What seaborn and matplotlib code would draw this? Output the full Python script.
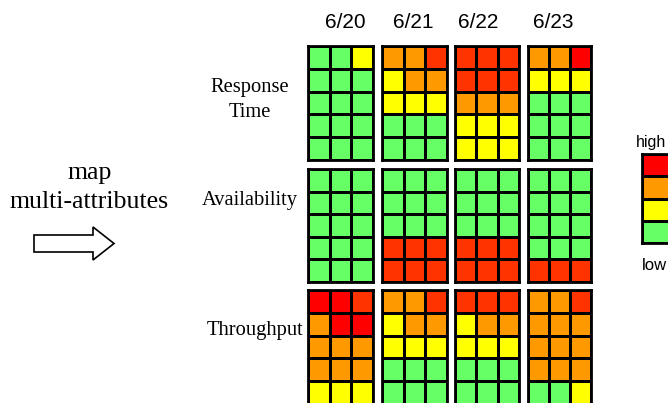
import numpy as np
import matplotlib.pyplot as plt
import seaborn as sns
from matplotlib.colors import ListedColormap
from matplotlib.patches import FancyArrow

# level colours: 0 green, 1 yellow, 2 orange, 3 red-orange, 4 red
level_colors = ["#66FF66", "#FFFF00", "#FF9900", "#FF3300", "#FF0000"]
dates = ["6/20", "6/21", "6/22", "6/23"]
attributes = ["Response\nTime", "Availability", "Throughput"]

response_time = [
    [[0, 0, 1], [0, 0, 0], [0, 0, 0], [0, 0, 0], [0, 0, 0]],
    [[2, 2, 3], [1, 2, 2], [1, 1, 1], [0, 0, 0], [0, 0, 0]],
    [[3, 3, 3], [3, 3, 3], [2, 2, 2], [1, 1, 1], [1, 1, 1]],
    [[2, 2, 4], [1, 1, 1], [0, 0, 0], [0, 0, 0], [0, 0, 0]],
]
availability = [
    [[0, 0, 0], [0, 0, 0], [0, 0, 0], [0, 0, 0], [0, 0, 0]],
    [[0, 0, 0], [0, 0, 0], [0, 0, 0], [3, 3, 3], [3, 3, 3]],
    [[0, 0, 0], [0, 0, 0], [0, 0, 0], [3, 3, 3], [3, 3, 3]],
    [[0, 0, 0], [0, 0, 0], [0, 0, 0], [0, 0, 0], [3, 3, 3]],
]
throughput = [
    [[4, 4, 3], [2, 4, 4], [2, 2, 2], [2, 2, 2], [1, 1, 1]],
    [[2, 2, 3], [1, 2, 2], [1, 1, 1], [0, 0, 0], [0, 0, 0]],
    [[3, 3, 3], [1, 2, 2], [1, 1, 1], [0, 0, 0], [0, 0, 0]],
    [[2, 2, 3], [2, 2, 2], [2, 2, 2], [2, 2, 2], [0, 0, 1]],
]
legend_levels = [4, 2, 1, 0]

W, H = 668, 403
fig = plt.figure(figsize=(W / 100, H / 100), dpi=100)
cmap = ListedColormap(level_colors)


def px_axes(x0, y0, x1, y1):
    # pixel box (top-left origin) -> figure axes
    return fig.add_axes([x0 / W, 1 - y1 / H, (x1 - x0) / W, (y1 - y0) / H])


def draw_grid(ax, values, cm, vmax):
    sns.heatmap(np.array(values), cmap=cm, vmin=-0.5, vmax=vmax, cbar=False,
                linewidths=2, linecolor="black", xticklabels=False,
                yticklabels=False, ax=ax)
    for s in ax.spines.values():
        s.set_visible(True)
        s.set_color("black")
        s.set_linewidth(2)


col_x = [(308, 373), (382, 447), (455, 519), (528, 591)]
row_y = [(46, 160), (169, 282), (290, 404)]
label_x = [250, 250, 255]
label_y = [100, 201, 330]
date_x = [345, 413, 478, 553]

for r, grids in enumerate([response_time, availability, throughput]):
    for c, g in enumerate(grids):
        ax = px_axes(col_x[c][0], row_y[r][0], col_x[c][1], row_y[r][1])
        draw_grid(ax, g, cmap, 4.5)
    fig.text(label_x[r] / W, 1 - label_y[r] / H, attributes[r], ha="center",
             va="center", family="Liberation Serif", fontsize=14.8,
             linespacing=1.4)

for c, d in enumerate(dates):
    fig.text(date_x[c] / W, 1 - 23 / H, d,
             ha="center", va="center", family="Liberation Sans", fontsize=15)

# legend
lax = px_axes(642, 154, 669, 243)
draw_grid(lax, [[v] for v in legend_levels], cmap, 4.5)
fig.text(651 / W, 1 - 142 / H, "high", ha="center", va="center",
         family="Liberation Sans", fontsize=11.5)
fig.text(654 / W, 1 - 266 / H, "low", ha="center", va="center",
         family="Liberation Sans", fontsize=12)

# left annotation
fig.text(90 / W, 1 - 173 / H, "map", ha="center", va="center",
         family="Liberation Serif", fontsize=18.6)
fig.text(89 / W, 1 - 202 / H, "multi-attributes", ha="center", va="center",
         family="Liberation Serif", fontsize=18.6)
aax = fig.add_axes([0, 0, 1, 1])
aax.set_xlim(0, W)
aax.set_ylim(H, 0)
aax.axis("off")
aax.add_patch(FancyArrow(34, 243.5, 59, 0, width=17, head_width=33,
                         head_length=21, length_includes_head=False,
                         facecolor="white", edgecolor="black", linewidth=1.2))

fig.savefig("out.png", dpi=100)
